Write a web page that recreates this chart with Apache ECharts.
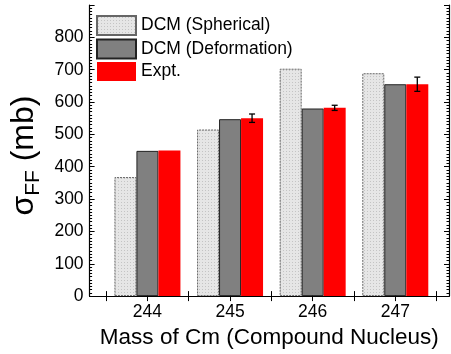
<!DOCTYPE html>
<html><head><meta charset="utf-8">
<script src="https://cdn.jsdelivr.net/npm/echarts@6/dist/echarts.min.js"></script>
<style>html,body{margin:0;padding:0;background:#fff}#c{width:451px;height:354px}</style>
</head><body><div id="c"></div>
<script>
const categories = [244, 245, 246, 247];
const spherical = [368, 515, 703, 689];
const deformation = [449, 547, 580, 655];
const expt = [450, 550, 582, 655];
const exptErr = [0, 13, 8, 22];
const yTicks = [0, 100, 200, 300, 400, 500, 600, 700, 800];
const seriesNames = ['DCM (Spherical)', 'DCM (Deformation)', 'Expt.'];

const FONT = "'Liberation Sans', Arial, sans-serif";
const BAR_W = 22;

// dotted light pattern for spherical bars
const pc = document.createElement('canvas');
pc.width = 3; pc.height = 3;
const pctx = pc.getContext('2d');
pctx.fillStyle = '#e6e6e6'; pctx.fillRect(0, 0, 3, 3);
pctx.fillStyle = '#c4c4c4'; pctx.fillRect(1, 1, 1, 1);
const dotted = { image: pc, repeat: 'repeat' };

const chart = echarts.init(document.getElementById('c'), null, { renderer: 'canvas' });

const tickVals = [243.5, 244, 244.5, 245, 245.5, 246, 246.5, 247, 247.5];
const xCommon = {
  type: 'value', min: 243.3, max: 247.65,
  axisLine: { show: true, lineStyle: { color: '#000', width: 1.2 } },
  splitLine: { show: false }
};

const option = {
  animation: false,
  backgroundColor: '#fff',
  grid: { left: 85, right: 2, top: 5, bottom: 52, containLabel: false },
  legend: {
    orient: 'vertical', left: 96, top: 15, padding: 0, icon: 'rect',
    itemWidth: 39, itemHeight: 19, itemGap: 2.5,
    data: seriesNames,
    textStyle: { fontFamily: FONT, fontSize: 17.5, color: '#000', padding: [0, 0, 0, 0] }
  },
  xAxis: [
    Object.assign({}, xCommon, {
      position: 'bottom',
      name: 'Mass of Cm (Compound Nucleus)', nameLocation: 'middle', nameGap: 28,
      nameTextStyle: { fontFamily: FONT, fontSize: 22.5, color: '#000' },
      axisTick: { show: true, inside: true, length: 5, customValues: tickVals, lineStyle: { color: '#000' } },
      axisLabel: { customValues: categories, fontFamily: FONT, fontSize: 17.5, color: '#000', margin: 7 }
    }),
    Object.assign({}, xCommon, {
      position: 'top',
      axisTick: { show: true, inside: true, length: 5, customValues: tickVals, lineStyle: { color: '#000' } },
      axisLabel: { show: false }
    })
  ],
  yAxis: [
    {
      type: 'value', min: 0, max: 900, interval: 100, position: 'left',
      name: '{s|σ}{sub|FF}{s| (mb)}', nameLocation: 'middle', nameGap: 36, nameRotate: 90,
      nameTextStyle: {
        padding: [0, 0, 0, -10],
        rich: {
          s: { fontFamily: FONT, fontSize: 32, color: '#000' },
          sub: { fontFamily: FONT, fontSize: 21, color: '#000', verticalAlign: 'bottom', padding: [18, 0, 0, 0] }
        }
      },
      axisLine: { show: true, lineStyle: { color: '#000', width: 1.2 } },
      axisTick: { show: true, inside: true, length: 5, lineStyle: { color: '#000' } },
      minorTick: { show: true, splitNumber: 10, length: 2.5, lineStyle: { color: '#000' } },
      axisLabel: { fontFamily: FONT, fontSize: 17.5, color: '#000', margin: 6,
        formatter: v => (yTicks.indexOf(v) >= 0 ? String(v) : '') },
      splitLine: { show: false }
    },
    {
      type: 'value', min: 0, max: 900, interval: 100, position: 'right',
      axisLine: { show: true, lineStyle: { color: '#000', width: 1.2 } },
      axisTick: { show: true, inside: true, length: 5, lineStyle: { color: '#000' } },
      minorTick: { show: true, splitNumber: 10, length: 2.5, lineStyle: { color: '#000' } },
      axisLabel: { show: false },
      splitLine: { show: false }
    }
  ],
  series: [
    {
      name: seriesNames[0], type: 'bar', barWidth: BAR_W, barGap: '0%',
      data: categories.map((c, i) => [c, spherical[i]]),
      itemStyle: { color: dotted, borderColor: '#666', borderWidth: 1, borderType: [2, 1] }
    },
    {
      name: seriesNames[1], type: 'bar', barWidth: BAR_W, barGap: '0%',
      data: categories.map((c, i) => [c, deformation[i]]),
      itemStyle: { color: '#808080', borderColor: '#222', borderWidth: 1 }
    },
    {
      name: seriesNames[2], type: 'bar', barWidth: BAR_W, barGap: '0%',
      data: categories.map((c, i) => [c, expt[i]]),
      itemStyle: { color: '#ff0000' }
    },
    {
      type: 'custom', name: 'err', silent: true, z: 10,
      data: categories.map((c, i) => [c, expt[i] - exptErr[i], expt[i] + exptErr[i]]),
      renderItem: function (params, api) {
        if (api.value(2) - api.value(1) <= 0) return null;
        const lo = api.coord([api.value(0), api.value(1)]);
        const hi = api.coord([api.value(0), api.value(2)]);
        const x = lo[0] + BAR_W;
        const cw = 3;
        const st = { stroke: '#000', lineWidth: 1.3 };
        return {
          type: 'group', children: [
            { type: 'line', shape: { x1: x, y1: lo[1], x2: x, y2: hi[1] }, style: st },
            { type: 'line', shape: { x1: x - cw, y1: lo[1], x2: x + cw, y2: lo[1] }, style: st },
            { type: 'line', shape: { x1: x - cw, y1: hi[1], x2: x + cw, y2: hi[1] }, style: st }
          ]
        };
      }
    }
  ]
};
chart.setOption(option);
</script></body></html>
